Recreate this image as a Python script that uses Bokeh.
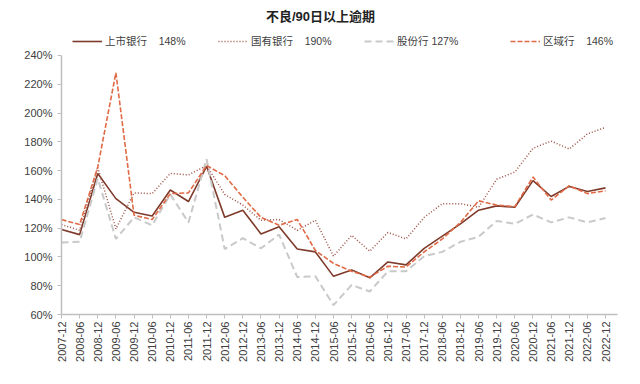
from bokeh.plotting import figure
from bokeh.models import Range1d, FixedTicker, Legend, LegendItem, Label
from bokeh.embed import file_html
from bokeh.resources import INLINE

categories = ["2007-12", "2008-06", "2008-12", "2009-06", "2009-12", "2010-06", "2010-12",
              "2011-06", "2011-12", "2012-06", "2012-12", "2013-06", "2013-12", "2014-06",
              "2014-12", "2015-06", "2015-12", "2016-06", "2016-12", "2017-06", "2017-12",
              "2018-06", "2018-12", "2019-06", "2019-12", "2020-06", "2020-12", "2021-06",
              "2021-12", "2022-06", "2022-12"]

listed_banks = [119, 115.5, 158, 140.5, 131, 128.5, 146.5, 138.5, 163, 127.5, 132.5, 116, 121,
                105.5, 103.5, 86.5, 91, 85.5, 96.5, 94.5, 106, 114.5, 123, 132.5, 135.5, 134.5,
                153, 142, 149, 145.5, 148]
state_banks = [122.5, 118.5, 162, 119.5, 144.5, 144, 158, 157, 163.5, 143.5, 136, 125.5, 126,
               118.5, 125.5, 100.5, 115, 104, 117, 112.5, 127.5, 137, 137, 134.5, 154, 159,
               175.5, 180.5, 175, 185.5, 190]
joint_stock = [110, 110.5, 154.5, 112.5, 127.5, 122, 143.5, 124, 168, 105.5, 113, 106, 115.5,
               86, 86.5, 66.5, 80.5, 76, 90, 90, 100.5, 103.5, 110.5, 114, 125, 123, 129.5,
               124, 127.5, 124, 127]
regional = [126, 122.5, 162.5, 228, 129, 126, 144, 144.5, 163.5, 156.5, 141.5, 127.5, 122, 126,
            104.5, 95.5, 90, 86, 93.5, 93, 103.5, 112.5, 124, 139, 136, 135, 155.5, 139.5,
            149.5, 144, 146]

series_names = ["上市银行", "国有银行", "股份行", "区域行"]
latest_labels = ["148%", "190%", "127%", "146%"]
y_ticks = [60, 80, 100, 120, 140, 160, 180, 200, 220, 240]
y_tick_labels = ["60%", "80%", "100%", "120%", "140%", "160%", "180%", "200%", "220%", "240%"]
title_text = "不良/90日以上逾期"

FONT = "Liberation Sans, Noto Sans CJK SC"

# frame spans from the top of the canvas down to the x axis; the y axis line is
# bounded to 60..240 so the space above holds the title and legend
p = figure(width=632, height=376, output_backend="svg", toolbar_location=None,
           x_range=Range1d(0, 30.66), y_range=Range1d(60, 278.2),
           min_border_left=61, min_border_right=15, min_border_top=0, min_border_bottom=62)
p.outline_line_color = None
p.xgrid.visible = False
p.ygrid.visible = False
p.background_fill_color = "white"

xs = list(range(len(categories)))
r1 = p.line(xs, listed_banks, line_color="#7E3B2C", line_width=1.6)
r2 = p.line(xs, state_banks, line_color="#9C5044", line_width=1.5, line_dash="1 2")
r3 = p.line(xs, joint_stock, line_color="#C9C9C9", line_width=2, line_dash="7 4")
r4 = p.line(xs, regional, line_color="#E06A45", line_width=1.6, line_dash="5 2")

p.xaxis.ticker = FixedTicker(ticks=xs)
p.xaxis.major_label_overrides = {i: c for i, c in enumerate(categories)}
p.xaxis.major_label_orientation = 1.5707963
p.yaxis.ticker = FixedTicker(ticks=y_ticks)
p.yaxis.major_label_overrides = {t: l for t, l in zip(y_ticks, y_tick_labels)}
p.yaxis.bounds = (y_ticks[0], y_ticks[-1])
for ax in (p.xaxis, p.yaxis):
    ax.axis_line_color = "#BFBFBF"
    ax.axis_line_width = 1.5
    ax.major_tick_line_color = "#BFBFBF"
    ax.major_tick_out = 4
    ax.major_tick_in = 0
    ax.minor_tick_line_color = None
    ax.major_label_text_font = FONT
    ax.major_label_text_font_size = "11px"
    ax.major_label_text_color = "#404040"
p.yaxis.major_label_standoff = 5
p.xaxis.major_label_standoff = 3

renderers = [r1, r2, r3, r4]
gaps = ["\u00a0\u00a0\u00a0\u00a0", "\u00a0\u00a0\u00a0\u00a0", "\u00a0", "\u00a0\u00a0\u00a0\u00a0"]
items = [LegendItem(label=n + g + l, renderers=[r])
         for r, n, l, g in zip(renderers, series_names, latest_labels, gaps)]
lg = Legend(items=items, location=(11, 266), orientation="horizontal",
            glyph_width=30, glyph_height=12, label_height=12, label_standoff=3,
            label_width=90, spacing=23,
            padding=0, margin=0, border_line_color=None, background_fill_alpha=0,
            label_text_font=FONT, label_text_font_size="10.5px",
            label_text_color="#404040")
p.add_layout(lg, "center")

title = Label(x=259, y=298, x_units="screen", y_units="screen", text=title_text,
              text_align="center", text_baseline="middle", text_font=FONT,
              text_font_size="13px", text_font_style="bold", text_color="#222222")
p.add_layout(title)

open("out.html", "w").write(file_html(p, INLINE))
